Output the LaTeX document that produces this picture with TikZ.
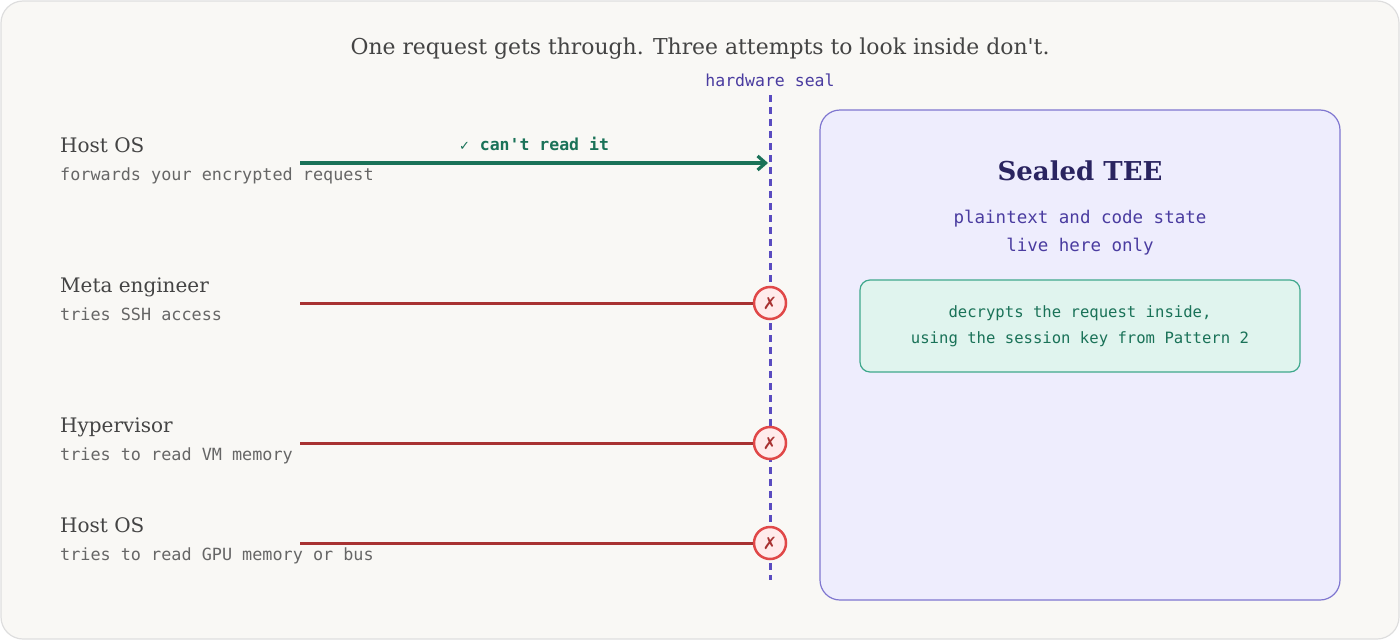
\documentclass[tikz,border=0pt]{standalone}
\usepackage{fontspec}
\setmainfont{DejaVu Serif}
\setmonofont{DejaVu Sans Mono}
\newfontfamily\symfont{DejaVu Sans}
\usetikzlibrary{arrows.meta,positioning}
\definecolor{bgpaper}{HTML}{F9F8F5}
\definecolor{sealblue}{HTML}{5A4CC0}
\definecolor{teefill}{HTML}{EEEDFD}
\definecolor{teeline}{HTML}{7F76D0}
\definecolor{teedark}{HTML}{2A2460}
\definecolor{teetext}{HTML}{4A3CA0}
\definecolor{okgreen}{HTML}{1A7258}
\definecolor{boxgreen}{HTML}{E0F4EE}
\definecolor{boxline}{HTML}{3FA88C}
\definecolor{blockred}{HTML}{A83232}
\definecolor{ringred}{HTML}{E04848}
\definecolor{ink}{HTML}{444444}
\definecolor{subink}{HTML}{666666}
\tikzset{
  actor/.style={anchor=base west, font=\fontsize{20}{24}\selectfont, text=ink, inner sep=0},
  note/.style={anchor=base west, font=\ttfamily\fontsize{16.8}{19}\selectfont, text=subink, inner sep=0},
  blocked/.style={draw=blockred, line width=3pt},
  stop/.style={circle, draw=ringred, line width=2.5pt, fill=red!8, minimum size=32pt, inner sep=0,
    text=blockred, font=\symfont\fontsize{17}{17}\selectfont, node contents={✗}}
}
\begin{document}
\begin{tikzpicture}[x=1pt,y=-1pt]
\useasboundingbox (0,0) rectangle (1400,640);
\draw[fill=bgpaper, draw=black!13, line width=1.2pt, rounded corners=22pt] (1,1) rectangle (1399,639);
\node (title) at (700,49) {\fontsize{21.9}{25}\selectfont\color{ink}One request gets through. Three attempts to look inside don\textquotesingle t.};
% hardware seal
\node (seallabel) at (770,80) {\ttfamily\fontsize{16.5}{19}\selectfont\color{teetext}hardware seal};
\coordinate (sealtop) at (770,95);
\coordinate (sealbot) at (770,580);
\draw[sealblue, line width=3pt, dash pattern=on 7pt off 5pt] (sealtop) -- (sealbot);
% TEE
\draw[fill=teefill, draw=teeline, line width=1.2pt, rounded corners=20pt] (820,110) rectangle (1340,600);
\node (teetitle) at (1080,171) {\fontsize{26}{30}\selectfont\bfseries\color{teedark}Sealed TEE};
\node (teenote) at (1080,233) [align=center, font=\ttfamily\fontsize{17.5}{28}\selectfont, text=teetext]
  {plaintext and code state\\live here only};
\node (decrypt) at (1080,326) [draw=boxline, line width=1.2pt, fill=boxgreen, rounded corners=10pt, minimum width=440pt,
  minimum height=92pt, align=center, font=\ttfamily\fontsize{15.6}{26}\selectfont, text=okgreen]
  {decrypts the request inside,\\using the session key from Pattern 2};
% actors
\node[actor] (host) at (60,152) {Host OS};
\node[note] (hostn) at (60,180) {forwards your encrypted request};
\node[actor] (meta) at (60,292) {Meta engineer};
\node[note] (metan) at (60,320) {tries SSH access};
\node[actor] (hyper) at (60,432) {Hypervisor};
\node[note] (hypern) at (60,460) {tries to read VM memory};
\node[actor] (gpu) at (60,532) {Host OS};
\node[note] (gpun) at (60,560) {tries to read GPU memory or bus};
% connectors
\coordinate (hostout) at (300,163);
\coordinate (hostin) at (768,163);
\draw[okgreen, line width=3.2pt, -{Straight Barb[length=8pt,width=14pt]}] (hostout) -- (hostin)
  node[midway, above=7pt, font=\ttfamily\bfseries\fontsize{16.5}{19}\selectfont, text=okgreen]
  {{\symfont\mdseries\fontsize{13}{16}\selectfont ✓} can't read it};
\foreach \name/\yy in {meta/303, hyper/443, gpu/543}{
  \coordinate (\name out) at (300,\yy);
  \node (\name stop) at (770,\yy) [stop];
  \draw[blocked] (\name out) -- (\name stop);
}
\end{tikzpicture}
\end{document}
